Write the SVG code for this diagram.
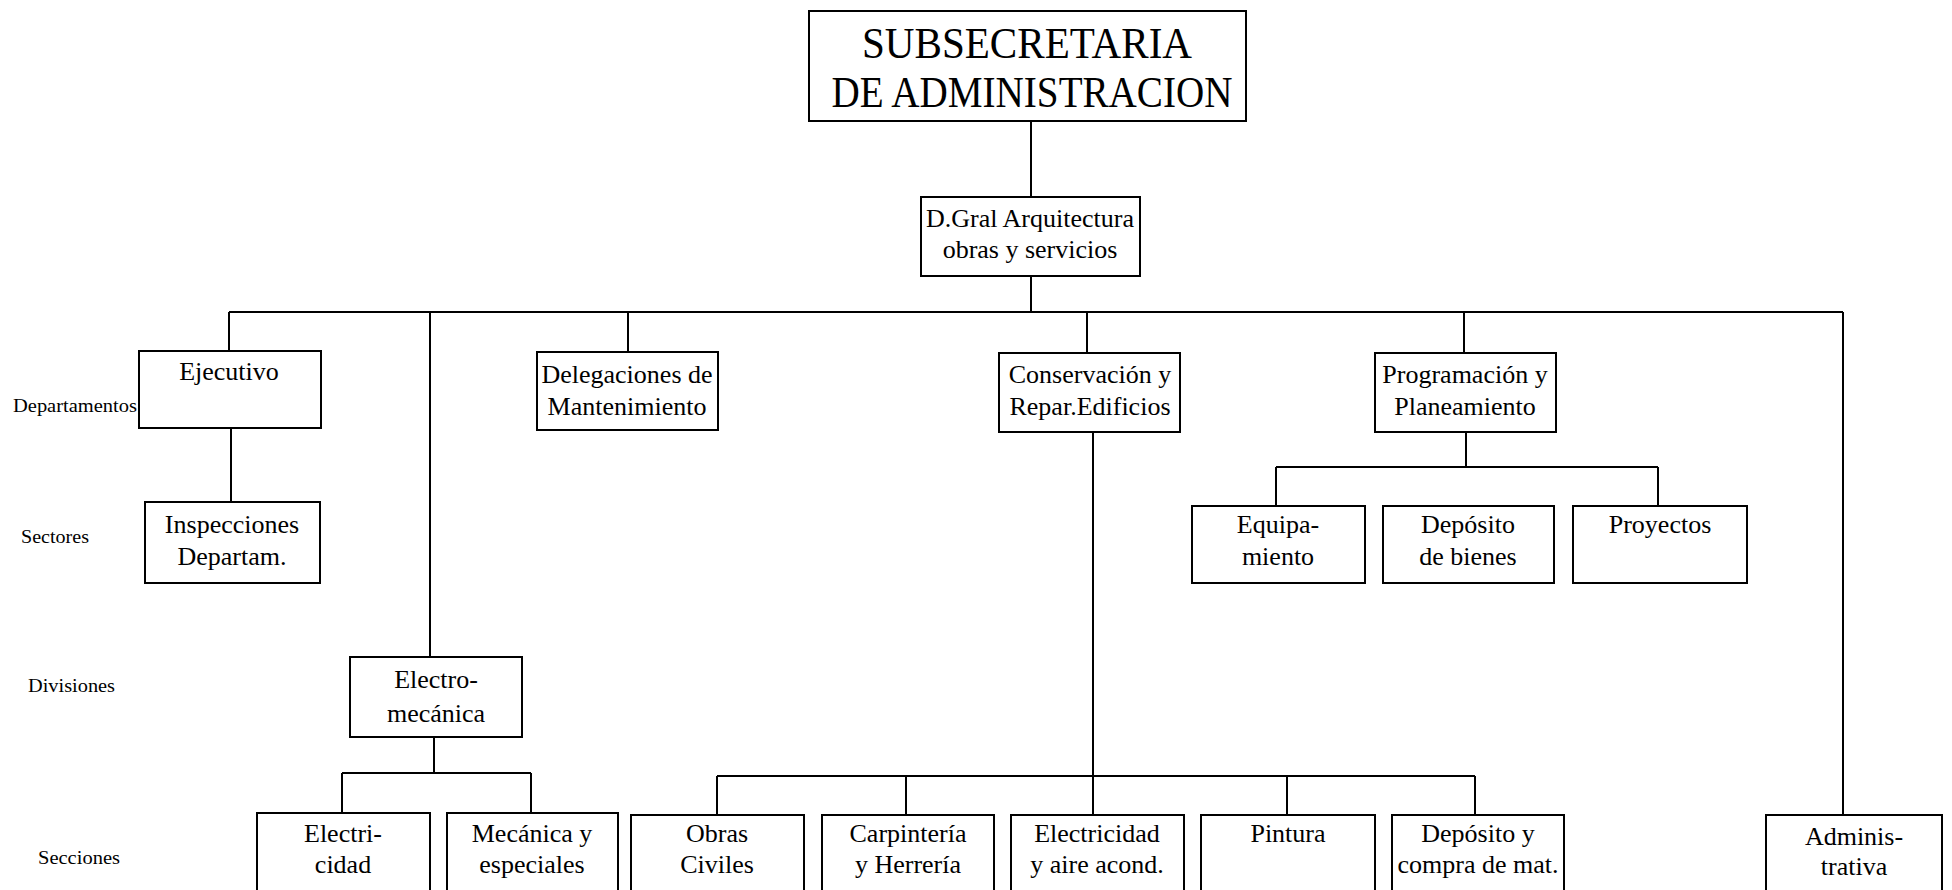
<svg xmlns="http://www.w3.org/2000/svg" width="1952" height="890" viewBox="0 0 1952 890">
<style>
.box{fill:#fff;stroke:#000;stroke-width:2}
.ln{fill:none;stroke:#000;stroke-width:2}
.t{font-family:"Liberation Serif","Times New Roman",serif;font-size:26px;text-anchor:middle;fill:#000}
.title{font-family:"Liberation Serif","Times New Roman",serif;font-size:44px;text-anchor:middle;fill:#000}
.lbl{font-family:"Liberation Serif","Times New Roman",serif;font-size:18px;fill:#000}
</style>
<rect width="1952" height="890" fill="#fff"/>
<g id="connectors">
<path class="ln" d="M1031 120V197M1031 276V312M229 312H1843M229 312V351M430 312V657M628 312V352M1087 312V353M1464 312V353M1843 312V815"/>
<path class="ln" d="M231 428V502"/>
<path class="ln" d="M434 737V773M342 773H531M342 773V813M531 773V813"/>
<path class="ln" d="M1093 432V815M717 776H1475M717 776V815M906 776V815M1287 776V815M1475 776V815"/>
<path class="ln" d="M1466 432V467M1276 467H1658M1276 467V506M1658 467V506"/>
</g>
<g id="labels">
<text class="lbl" x="13" y="412" textLength="124" lengthAdjust="spacingAndGlyphs">Departamentos</text>
<text class="lbl" x="21" y="543" textLength="68" lengthAdjust="spacingAndGlyphs">Sectores</text>
<text class="lbl" x="28" y="692" textLength="87" lengthAdjust="spacingAndGlyphs">Divisiones</text>
<text class="lbl" x="38" y="864" textLength="82" lengthAdjust="spacingAndGlyphs">Secciones</text>
</g>
<g id="subsecretaria">
<rect class="box" x="809" y="11" width="437" height="110"/>
<text class="title" x="1027" y="58" textLength="330" lengthAdjust="spacingAndGlyphs">SUBSECRETARIA</text>
<text class="title" x="1032" y="107" textLength="401" lengthAdjust="spacingAndGlyphs">DE ADMINISTRACION</text>
</g>
<g id="dgral">
<rect class="box" x="921" y="197" width="219" height="79"/>
<text class="t" x="1030" y="227">D.Gral Arquitectura</text>
<text class="t" x="1030" y="258">obras y servicios</text>
</g>
<g id="ejecutivo">
<rect class="box" x="139" y="351" width="182" height="77"/>
<text class="t" x="229" y="380">Ejecutivo</text>
</g>
<g id="delegaciones">
<rect class="box" x="537" y="352" width="181" height="78"/>
<text class="t" x="627" y="383">Delegaciones de</text>
<text class="t" x="627" y="415">Mantenimiento</text>
</g>
<g id="conservacion">
<rect class="box" x="999" y="353" width="181" height="79"/>
<text class="t" x="1090" y="383">Conservación y</text>
<text class="t" x="1090" y="415">Repar.Edificios</text>
</g>
<g id="programacion">
<rect class="box" x="1375" y="353" width="181" height="79"/>
<text class="t" x="1465" y="383">Programación y</text>
<text class="t" x="1465" y="415">Planeamiento</text>
</g>
<g id="inspecciones">
<rect class="box" x="145" y="502" width="175" height="81"/>
<text class="t" x="232" y="533">Inspecciones</text>
<text class="t" x="232" y="565">Departam.</text>
</g>
<g id="equipamiento">
<rect class="box" x="1192" y="506" width="173" height="77"/>
<text class="t" x="1278" y="533">Equipa-</text>
<text class="t" x="1278" y="565">miento</text>
</g>
<g id="deposito-bienes">
<rect class="box" x="1383" y="506" width="171" height="77"/>
<text class="t" x="1468" y="533">Depósito</text>
<text class="t" x="1468" y="565">de bienes</text>
</g>
<g id="proyectos">
<rect class="box" x="1573" y="506" width="174" height="77"/>
<text class="t" x="1660" y="533">Proyectos</text>
</g>
<g id="electromecanica">
<rect class="box" x="350" y="657" width="172" height="80"/>
<text class="t" x="436" y="688">Electro-</text>
<text class="t" x="436" y="722">mecánica</text>
</g>
<g id="electricidad">
<rect class="box" x="257" y="813" width="173" height="90"/>
<text class="t" x="343" y="842">Electri-</text>
<text class="t" x="343" y="873">cidad</text>
</g>
<g id="mecanica">
<rect class="box" x="447" y="813" width="171" height="90"/>
<text class="t" x="532" y="842">Mecánica y</text>
<text class="t" x="532" y="873">especiales</text>
</g>
<g id="obras-civiles">
<rect class="box" x="631" y="815" width="173" height="90"/>
<text class="t" x="717" y="842">Obras</text>
<text class="t" x="717" y="873">Civiles</text>
</g>
<g id="carpinteria">
<rect class="box" x="822" y="815" width="172" height="90"/>
<text class="t" x="908" y="842">Carpintería</text>
<text class="t" x="908" y="873">y Herrería</text>
</g>
<g id="electricidad-aire">
<rect class="box" x="1011" y="815" width="173" height="90"/>
<text class="t" x="1097" y="842">Electricidad</text>
<text class="t" x="1097" y="873">y aire acond.</text>
</g>
<g id="pintura">
<rect class="box" x="1201" y="815" width="174" height="90"/>
<text class="t" x="1288" y="842">Pintura</text>
</g>
<g id="deposito-compra">
<rect class="box" x="1392" y="815" width="172" height="90"/>
<text class="t" x="1478" y="842">Depósito y</text>
<text class="t" x="1478" y="873">compra de mat.</text>
</g>
<g id="administrativa">
<rect class="box" x="1766" y="815" width="176" height="90"/>
<text class="t" x="1854" y="845">Adminis-</text>
<text class="t" x="1854" y="875">trativa</text>
</g>
</svg>
